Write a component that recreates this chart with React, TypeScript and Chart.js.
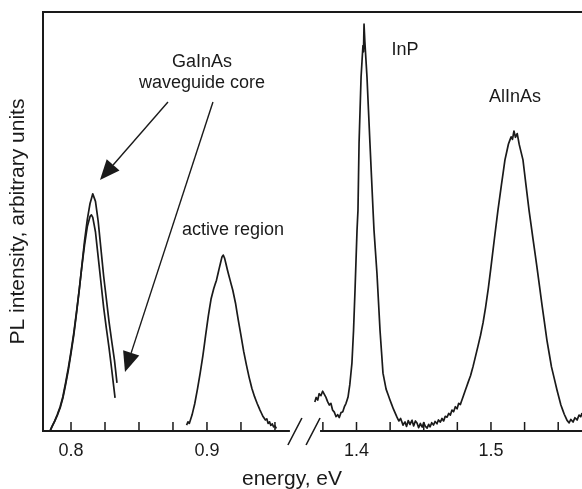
import React, { useEffect, useRef } from "react";
import { Chart, registerables } from "chart.js";

Chart.register(...registerables);

// ---- Data (energy in eV, PL intensity in arbitrary units) ----
const gainAsEnergyA = [0.7846, 0.786, 0.788, 0.79, 0.792, 0.794, 0.796, 0.798, 0.8, 0.802, 0.804, 0.806, 0.808, 0.81, 0.812, 0.814, 0.816, 0.818, 0.82, 0.822, 0.824, 0.826, 0.828, 0.83, 0.832, 0.8338];
const gainAsIntensityA = [0, 1.0, 2.3, 3.8, 5.5, 7.8, 11.0, 14.5, 18.5, 22.8, 28.0, 33.5, 39.5, 45.5, 50.5, 54.3, 56.6, 54.8, 50.0, 43.5, 37.0, 31.5, 26.0, 21.3, 16.8, 11.5];

const gainAsEnergyB = [0.7846, 0.786, 0.788, 0.79, 0.792, 0.794, 0.796, 0.798, 0.8, 0.802, 0.804, 0.806, 0.808, 0.81, 0.812, 0.814, 0.815, 0.816, 0.818, 0.82, 0.822, 0.824, 0.826, 0.828, 0.83, 0.8324];
const gainAsIntensityB = [0, 1.1, 2.4, 4.0, 5.8, 8.2, 11.5, 15.0, 19.0, 23.3, 28.3, 33.6, 39.3, 44.5, 48.8, 51.2, 51.6, 51.0, 47.5, 41.5, 35.5, 29.5, 24.5, 19.8, 14.5, 7.9];

const activeEnergy = [0.885, 0.886, 0.887, 0.889, 0.891, 0.893, 0.895, 0.897, 0.899, 0.901, 0.903, 0.905, 0.907, 0.909, 0.911, 0.912, 0.913, 0.915, 0.917, 0.919, 0.921, 0.923, 0.925, 0.927, 0.929, 0.931, 0.933, 0.935, 0.937, 0.939, 0.941, 0.943, 0.944, 0.945, 0.946, 0.947, 0.948, 0.949, 0.95, 0.951];
const activeIntensity = [1.4, 2.2, 1.8, 3.8, 6.5, 10.0, 13.8, 18.0, 22.8, 27.5, 31.5, 34.0, 36.0, 38.8, 41.5, 42.0, 41.2, 38.5, 36.0, 33.6, 30.5, 26.5, 22.8, 19.0, 15.8, 12.8, 10.2, 8.2, 6.5, 5.0, 3.6, 2.6, 2.9, 1.8, 2.2, 1.3, 1.7, 1.0, 1.2, 0.6];

const highEnergy = [1.369, 1.37, 1.3712, 1.3722, 1.3735, 1.3748, 1.376, 1.3772, 1.3785, 1.3798, 1.381, 1.3822, 1.3835, 1.3848, 1.386, 1.3872, 1.3885, 1.3898, 1.391, 1.3922, 1.3937, 1.395, 1.3966, 1.3978, 1.3989, 1.4004, 1.4011, 1.4019, 1.4034, 1.4048, 1.4052, 1.4056, 1.4062, 1.4078, 1.41, 1.4123, 1.413, 1.4152, 1.4175, 1.4197, 1.422, 1.4249, 1.4275, 1.4301, 1.4315, 1.4328, 1.4346, 1.436, 1.4372, 1.4385, 1.4398, 1.4412, 1.4425, 1.4438, 1.445, 1.4462, 1.4475, 1.4488, 1.45, 1.4512, 1.4525, 1.4537, 1.4547, 1.456, 1.4572, 1.4585, 1.4598, 1.461, 1.4623, 1.4636, 1.4648, 1.466, 1.4673, 1.4686, 1.4698, 1.471, 1.4722, 1.4735, 1.4748, 1.476, 1.4772, 1.4792, 1.481, 1.483, 1.4848, 1.4866, 1.4885, 1.4903, 1.4922, 1.4941, 1.496, 1.498, 1.5, 1.5026, 1.5052, 1.5078, 1.5104, 1.513, 1.515, 1.516, 1.5171, 1.5182, 1.5195, 1.521, 1.5238, 1.526, 1.5283, 1.5312, 1.5342, 1.538, 1.5416, 1.545, 1.5491, 1.552, 1.5545, 1.5565, 1.558, 1.5595, 1.561, 1.5625, 1.564, 1.5655, 1.5668, 1.5677];
const highIntensity = [6.9, 8.0, 7.4, 8.9, 8.4, 9.5, 8.8, 8.1, 7.0, 6.2, 6.6, 5.0, 4.5, 3.4, 3.9, 3.2, 4.4, 4.6, 5.8, 6.6, 8.1, 11.0, 16.2, 24.0, 33.6, 48.0, 52.7, 68.7, 84.5, 92.0, 90.5, 97.1, 93.0, 84.5, 68.7, 52.7, 48.0, 37.7, 24.0, 13.8, 10.0, 7.4, 5.2, 3.3, 2.4, 3.0, 1.4, 2.2, 1.1, 2.5, 1.5, 2.6, 1.2, 2.4, 1.9, 0.8, 1.8, 0.9, 2.0, 1.1, 0.7, 1.6, 1.0, 2.0, 1.4, 2.3, 1.7, 2.7, 2.1, 3.0, 2.4, 3.5, 3.3, 4.2, 3.8, 5.0, 4.6, 5.8, 5.3, 6.6, 6.3, 8.1, 9.8, 11.6, 13.2, 15.3, 17.8, 20.2, 22.8, 25.8, 29.5, 34.0, 39.1, 46.0, 52.7, 58.8, 64.7, 68.5, 70.2, 69.6, 71.6, 70.1, 71.0, 68.4, 64.7, 58.8, 52.7, 46.0, 39.1, 30.0, 21.7, 15.3, 9.8, 6.2, 4.0, 2.6, 1.9, 2.8, 2.1, 3.2, 2.6, 3.8, 3.4, 4.3];

const tickLabels = [0.8, 0.9, 1.4, 1.5];

const FONT = "'Liberation Sans', Arial, Helvetica, sans-serif";
const INK = "#1a1a1a";

const toPoints = (xs: number[], ys: number[]) => xs.map((x, i) => ({ x, y: ys[i] }));

const decorPlugin = {
  id: "decor",
  afterDraw(chart: any) {
    const { ctx, chartArea } = chart;
    const x1 = chart.scales.x1;
    const x2 = chart.scales.x2;
    const y = chart.scales.y;
    const bottom = chartArea.bottom;
    ctx.save();
    ctx.strokeStyle = INK;
    ctx.fillStyle = INK;
    ctx.lineCap = "butt";

    // frame: left and top
    ctx.lineWidth = 2;
    ctx.beginPath();
    ctx.moveTo(chartArea.left, bottom + 1);
    ctx.lineTo(chartArea.left, chartArea.top);
    ctx.lineTo(chartArea.right, chartArea.top);
    ctx.stroke();

    // broken bottom axis
    const breakL = x1.getPixelForValue(0.961);
    const breakR = x2.getPixelForValue(1.3729);
    ctx.beginPath();
    ctx.moveTo(chartArea.left, bottom);
    ctx.lineTo(breakL, bottom);
    ctx.moveTo(breakR, bottom);
    ctx.lineTo(chartArea.right, bottom);
    ctx.stroke();
    ctx.lineWidth = 1.6;
    ctx.beginPath();
    const s1 = breakL + 5;
    const s2 = breakR - 7;
    ctx.moveTo(s1 + 7, bottom - 13);
    ctx.lineTo(s1 - 7, bottom + 14);
    ctx.moveTo(s2 + 7, bottom - 13);
    ctx.lineTo(s2 - 7, bottom + 14);
    ctx.stroke();

    // inward tick marks
    ctx.lineWidth = 1.5;
    ctx.beginPath();
    x1.ticks.forEach((t: any) => {
      if (t.value > 0.961) return;
      const px = x1.getPixelForValue(t.value);
      ctx.moveTo(px, bottom);
      ctx.lineTo(px, bottom - 9);
    });
    x2.ticks.forEach((t: any) => {
      if (t.value < 1.3729) return;
      const px = x2.getPixelForValue(t.value);
      ctx.moveTo(px, bottom);
      ctx.lineTo(px, bottom - 9);
    });
    ctx.stroke();

    // arrows
    const arrow = (sx: number, sy: number, ex: number, ey: number) => {
      const ax = x1.getPixelForValue(sx);
      const ay = y.getPixelForValue(sy);
      const bx = x1.getPixelForValue(ex);
      const by = y.getPixelForValue(ey);
      const ang = Math.atan2(by - ay, bx - ax);
      const len = 20;
      const hw = 8.5;
      const baseX = bx - len * Math.cos(ang);
      const baseY = by - len * Math.sin(ang);
      ctx.lineWidth = 1.4;
      ctx.beginPath();
      ctx.moveTo(ax, ay);
      ctx.lineTo(baseX, baseY);
      ctx.stroke();
      ctx.beginPath();
      ctx.moveTo(bx, by);
      ctx.lineTo(baseX + hw * Math.sin(ang), baseY - hw * Math.cos(ang));
      ctx.lineTo(baseX - hw * Math.sin(ang), baseY + hw * Math.cos(ang));
      ctx.closePath();
      ctx.fill();
    };
    arrow(0.8713, 78.5, 0.8213, 59.9);
    arrow(0.9044, 78.5, 0.8397, 14.1);

    // labels
    ctx.font = `18px ${FONT}`;
    ctx.textAlign = "center";
    ctx.textBaseline = "middle";
    const label = (text: string, sc: any, vx: number, vy: number) => {
      ctx.fillText(text, sc.getPixelForValue(vx), y.getPixelForValue(vy));
    };
    label("GaInAs", x1, 0.8963, 88.1);
    label("waveguide core", x1, 0.8963, 83.1);
    label("active region", x1, 0.9191, 48.0);
    label("InP", x2, 1.4361, 90.9);
    label("AlInAs", x2, 1.5178, 79.7);
    ctx.restore();
  },
};

const tickCallback = (value: any) => {
  const v = Number(value);
  const hit = tickLabels.find((t) => Math.abs(t - v) < 1e-6);
  return hit !== undefined ? hit.toFixed(1) : "";
};

const fixHeight = (scale: any) => {
  scale.height = 30.6;
};

const lineStyle = {
  borderColor: INK,
  borderWidth: 1.7,
  borderJoinStyle: "round",
  pointRadius: 0,
  tension: 0.001,
  fill: false,
};

const xTicks = {
  stepSize: 0.025,
  autoSkip: false,
  includeBounds: false,
  maxRotation: 0,
  padding: 9,
  color: INK,
  font: { family: FONT, size: 18 },
  callback: tickCallback,
};

export default function App() {
  const ref = useRef<HTMLCanvasElement | null>(null);
  useEffect(() => {
    if (!ref.current) return;
    const chart = new Chart(ref.current, {
      type: "line",
      data: {
        datasets: [
          { label: "GaInAs 1", data: toPoints(gainAsEnergyA, gainAsIntensityA), xAxisID: "x1", yAxisID: "y", ...lineStyle },
          { label: "GaInAs 2", data: toPoints(gainAsEnergyB, gainAsIntensityB), xAxisID: "x1", yAxisID: "y", ...lineStyle },
          { label: "active region", data: toPoints(activeEnergy, activeIntensity), xAxisID: "x1", yAxisID: "y", ...lineStyle },
          { label: "InP / AlInAs", data: toPoints(highEnergy, highIntensity), xAxisID: "x2", yAxisID: "y", ...lineStyle },
        ],
      } as any,
      options: {
        animation: false,
        responsive: false,
        devicePixelRatio: 1,
        layout: { padding: { left: 2, top: 12, right: 0, bottom: 0 } },
        plugins: {
          legend: { display: false },
          tooltip: { enabled: false },
          title: {
            display: true,
            position: "bottom",
            text: "energy, eV",
            color: INK,
            font: { family: FONT, size: 21, weight: "normal" },
            padding: { top: 5, bottom: -2.8 },
          },
        },
        scales: {
          x1: {
            type: "linear",
            position: "bottom",
            stack: "x",
            stackWeight: 262,
            min: 0.7794,
            max: 0.9721,
            grid: { display: false, drawTicks: false },
            border: { display: false },
            ticks: xTicks,
            afterFit: fixHeight,
          },
          x2: {
            type: "linear",
            position: "bottom",
            stack: "x",
            stackWeight: 277,
            min: 1.3617,
            max: 1.5677,
            grid: { display: false, drawTicks: false },
            border: { display: false },
            ticks: xTicks,
            afterFit: fixHeight,
          },
          y: {
            type: "linear",
            position: "left",
            min: 0,
            max: 100,
            grid: { display: false, drawTicks: false },
            border: { display: false },
            ticks: { display: false },
            title: {
              display: true,
              text: "PL intensity, arbitrary units",
              color: INK,
              font: { family: FONT, size: 21 },
              padding: { top: 3.4, bottom: 12.4 },
            },
          },
        },
      } as any,
      plugins: [decorPlugin],
    });
    return () => chart.destroy();
  }, []);

  return (
    <div style={{ position: "fixed", left: 0, top: 0, width: 582, height: 489, background: "#fff" }}>
      <canvas ref={ref} width={582} height={489} />
    </div>
  );
}
